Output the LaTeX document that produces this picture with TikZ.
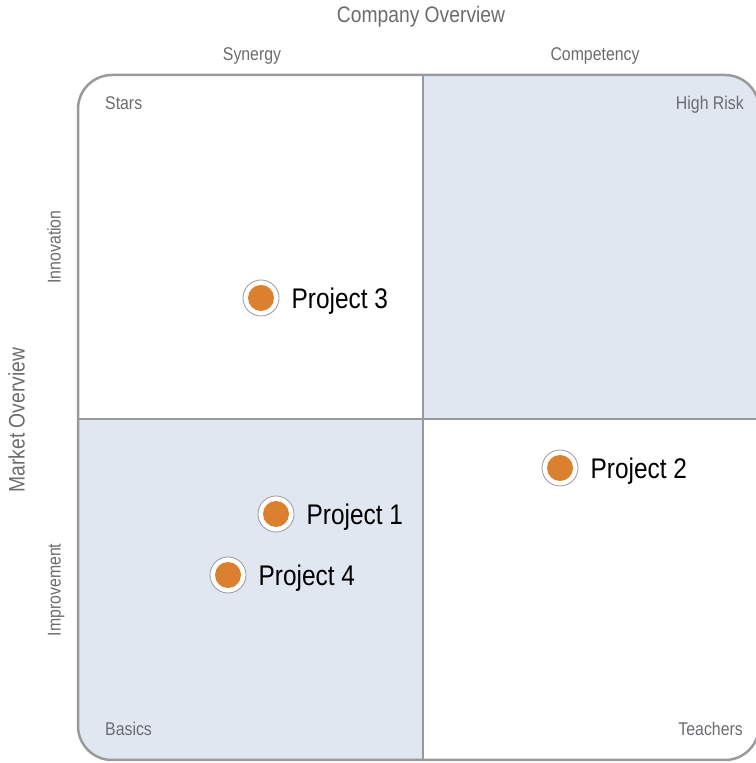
\documentclass[tikz,border=0pt]{standalone}
\usepackage{fontspec}
\setmainfont{Liberation Sans}
\newfontfamily\narrowfont[FakeStretch=0.86]{Liberation Sans}
\usetikzlibrary{positioning}
\definecolor{grey60}{rgb}{0.6,0.6,0.62}
\definecolor{quadfill}{rgb}{0.882,0.906,0.945}
\definecolor{labelgrey}{rgb}{0.42,0.42,0.44}
\definecolor{dotorange}{rgb}{0.86,0.5,0.18}

\begin{document}
\begin{tikzpicture}[line join=bevel,
    heading/.style={text=labelgrey,font=\narrowfont\fontsize{22.5}{26}\selectfont,inner sep=0pt},
    axis/.style={text=labelgrey,font=\narrowfont\fontsize{18.5}{22}\selectfont,inner sep=0pt},
    frame/.style={draw=grey60,line width=2.5bp},
    dot/.style={circle,draw=grey60,line width=0.8bp,fill=white,minimum size=36bp,inner sep=0pt,
      path picture={\fill[dotorange] (path picture bounding box.center) circle (13bp);}},
    project/.style={font=\narrowfont\fontsize{28.5}{32}\selectfont,inner sep=0pt,text depth=0pt,right=12bp of #1}]
      \useasboundingbox (0bp,0bp) rectangle (756bp,763bp);
      %% quadrants
      \begin{scope}
        \clip [rounded corners=34bp] (78bp,3bp) rectangle (759bp,688bp);
        \fill [quadfill] (423bp,344bp) rectangle (759bp,688bp);
        \fill [quadfill] (78bp,3bp) rectangle (423bp,344bp);
      \end{scope}
      \draw [frame,rounded corners=34bp] (78bp,3bp) rectangle (759bp,688bp);
      \draw [frame] (423bp,3bp) -- (423bp,688bp);
      \draw [frame] (78bp,344bp) -- (759bp,344bp);
      %% axis titles
      \node (company) at (421bp,743bp) [heading,anchor=mid] {Company Overview};
      \node (market) at (22bp,343bp) [heading,anchor=mid,rotate=90] {Market Overview};
      \node (synergy) at (252bp,705bp) [axis,anchor=mid] {Synergy};
      \node (competency) at (595bp,705bp) [axis,anchor=mid] {Competency};
      \node (innovation) at (58bp,516bp) [axis,anchor=mid,rotate=90] {Innovation};
      \node (improvement) at (58bp,173bp) [axis,anchor=mid,rotate=90] {Improvement};
      %% corner labels
      \node (stars) at (105bp,656bp) [axis,anchor=mid west] {Stars};
      \node (highrisk) at (744bp,656bp) [axis,anchor=mid east] {High Risk};
      \node (basics) at (105bp,30bp) [axis,anchor=mid west] {Basics};
      \node (teachers) at (743bp,30bp) [axis,anchor=mid east] {Teachers};
      %% projects
      \node (p3) at (261bp,465bp) [dot] {};
      \node (p2) at (560bp,295bp) [dot] {};
      \node (p1) at (276bp,249bp) [dot] {};
      \node (p4) at (228bp,188bp) [dot] {};
      \node (p3label) [project=p3] {Project 3};
      \node (p2label) [project=p2] {Project 2};
      \node (p1label) [project=p1] {Project 1};
      \node (p4label) [project=p4] {Project 4};
\end{tikzpicture}
\end{document}
